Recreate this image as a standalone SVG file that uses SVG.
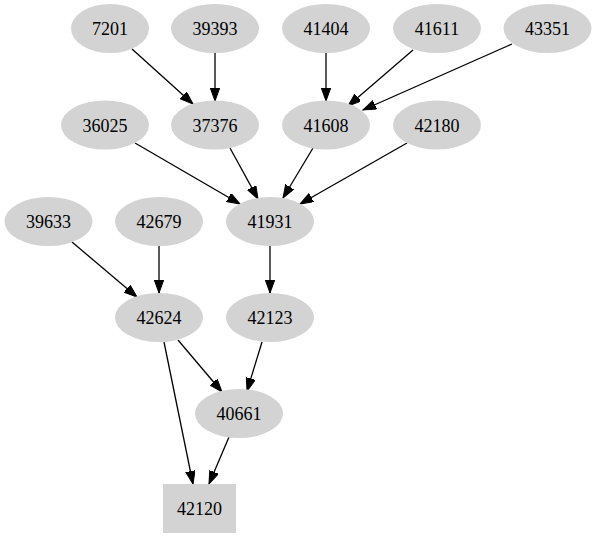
<svg xmlns="http://www.w3.org/2000/svg" width="596" height="539" viewBox="0 0 596 539">
<style>
.n ellipse, .n rect { fill: #d3d3d3; stroke: none; }
.n text { font-family: "Liberation Serif", "Times New Roman", serif; font-size: 18px; text-anchor: middle; fill: #000; }
#edges line { stroke: #000; stroke-width: 1.3; marker-end: url(#ah); }
</style>
<defs>
<marker id="ah" markerUnits="userSpaceOnUse" markerWidth="14" markerHeight="10" refX="13" refY="4.7" orient="auto">
<path d="M0,0 L13,4.7 L0,9.4 z" fill="#000" stroke="#000" stroke-width="1"/>
</marker>
</defs>
<rect width="596" height="539" fill="#fff"/>
<g id="edges">
<line x1="132" y1="49" x2="193" y2="104"/>
<line x1="215" y1="53" x2="215" y2="101"/>
<line x1="326" y1="53" x2="326" y2="101"/>
<line x1="413" y1="50" x2="348" y2="106"/>
<line x1="512" y1="44" x2="363" y2="110"/>
<line x1="135" y1="143" x2="240" y2="204"/>
<line x1="230" y1="148" x2="258" y2="199"/>
<line x1="313" y1="148" x2="283" y2="198"/>
<line x1="407" y1="143" x2="300" y2="204"/>
<line x1="72" y1="242" x2="137" y2="297"/>
<line x1="159" y1="246" x2="159" y2="293"/>
<line x1="270" y1="246" x2="270" y2="293"/>
<line x1="178" y1="340" x2="222" y2="392"/>
<line x1="262" y1="342" x2="247" y2="391"/>
<line x1="164" y1="342" x2="193" y2="484"/>
<line x1="229" y1="437" x2="209" y2="484"/>
</g>
<g id="n7201" class="n"><ellipse cx="110" cy="28.5" rx="39" ry="24.5"/><text x="110" y="35">7201</text></g>
<g id="n39393" class="n"><ellipse cx="215" cy="28.5" rx="44" ry="24.5"/><text x="215" y="35">39393</text></g>
<g id="n41404" class="n"><ellipse cx="326" cy="28.5" rx="44" ry="24.5"/><text x="326" y="35">41404</text></g>
<g id="n41611" class="n"><ellipse cx="437" cy="28.5" rx="44" ry="24.5"/><text x="437" y="35">41611</text></g>
<g id="n43351" class="n"><ellipse cx="547.5" cy="28.5" rx="44" ry="24.5"/><text x="547.5" y="35">43351</text></g>
<g id="n36025" class="n"><ellipse cx="105" cy="125" rx="44" ry="24.5"/><text x="105" y="131.5">36025</text></g>
<g id="n37376" class="n"><ellipse cx="215" cy="125" rx="44" ry="24.5"/><text x="215" y="131.5">37376</text></g>
<g id="n41608" class="n"><ellipse cx="326" cy="125" rx="44" ry="24.5"/><text x="326" y="131.5">41608</text></g>
<g id="n42180" class="n"><ellipse cx="437" cy="125" rx="44" ry="24.5"/><text x="437" y="131.5">42180</text></g>
<g id="n39633" class="n"><ellipse cx="48.5" cy="221.5" rx="44" ry="24.5"/><text x="48.5" y="228">39633</text></g>
<g id="n42679" class="n"><ellipse cx="159" cy="221.5" rx="44" ry="24.5"/><text x="159" y="228">42679</text></g>
<g id="n41931" class="n"><ellipse cx="270" cy="221.5" rx="44" ry="24.5"/><text x="270" y="228">41931</text></g>
<g id="n42624" class="n"><ellipse cx="159" cy="317.5" rx="44" ry="24.5"/><text x="159" y="324">42624</text></g>
<g id="n42123" class="n"><ellipse cx="270" cy="317.5" rx="44" ry="24.5"/><text x="270" y="324">42123</text></g>
<g id="n40661" class="n"><ellipse cx="239" cy="413.5" rx="44" ry="24.5"/><text x="239" y="420">40661</text></g>
<g id="n42120" class="n"><rect x="163" y="484" width="73" height="49"/><text x="199.5" y="515">42120</text></g>
</svg>
